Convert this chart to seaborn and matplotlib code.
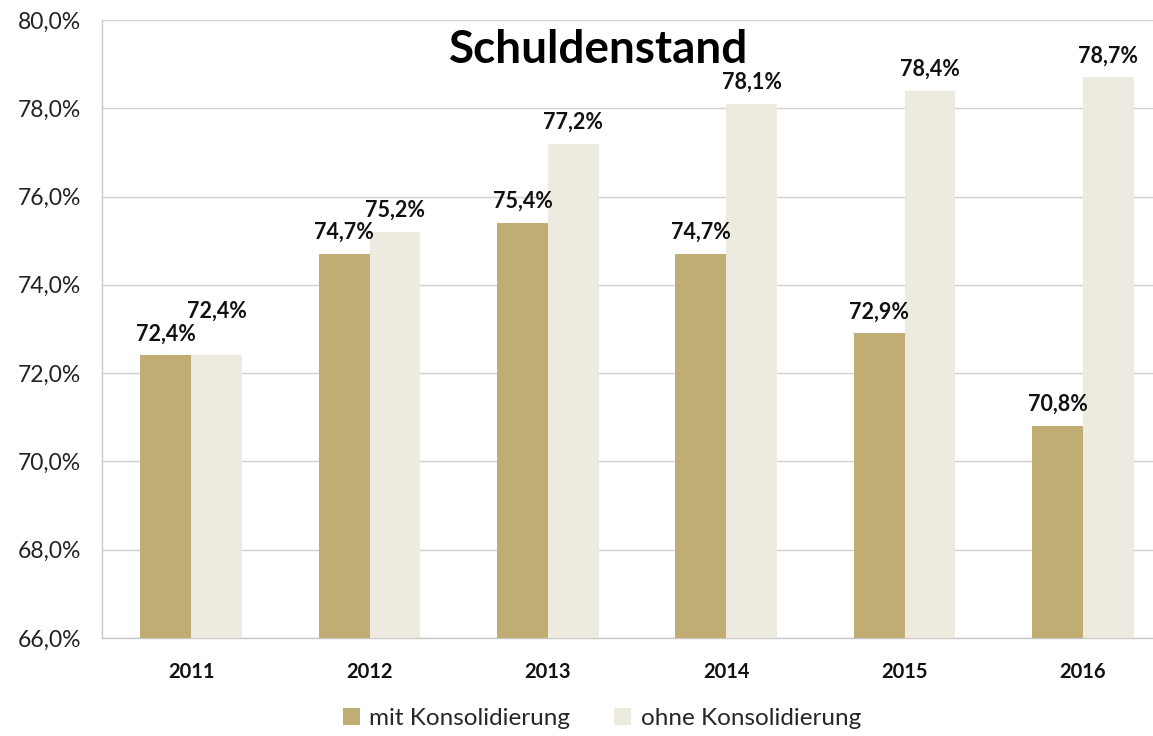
import matplotlib
matplotlib.use("Agg")
import matplotlib.pyplot as plt
import seaborn as sns
import pandas as pd
from matplotlib.ticker import FuncFormatter, FixedLocator
from matplotlib.patches import Patch

years = ["2011", "2012", "2013", "2014", "2015", "2016"]
mit_konsolidierung = [72.4, 74.7, 75.4, 74.7, 72.9, 70.8]
ohne_konsolidierung = [72.4, 75.2, 77.2, 78.1, 78.4, 78.7]
series_names = ["mit Konsolidierung", "ohne Konsolidierung"]
title = "Schuldenstand"

sns.set_theme(style="white")
plt.rcParams["font.family"] = ["Lato", "DejaVu Sans"]

df = pd.DataFrame({
    "Jahr": years * 2,
    "Wert": mit_konsolidierung + ohne_konsolidierung,
    "Serie": [series_names[0]] * len(years) + [series_names[1]] * len(years),
})

colors = {series_names[0]: "#BFAD74", series_names[1]: "#EDEAE0"}

fig = plt.figure(figsize=(11.53, 7.36), dpi=100)
ax = fig.add_axes([0.0885, 0.1332, 0.928, 0.8397])

sns.barplot(data=df, x="Jahr", y="Wert", hue="Serie", palette=colors,
            width=0.57, saturation=1, ax=ax, legend=False, zorder=3,
            linewidth=0, edgecolor="none")

ax.set_ylim(66, 80)
ax.set_xlim(-0.5, 5.5)
ax.set_yticks([66, 68, 70, 72, 74, 76, 78, 80])
ax.yaxis.set_major_formatter(FuncFormatter(lambda v, p: f"{v:.1f}".replace(".", ",") + "%"))
ax.grid(axis="y", color="#D0D0D0", linewidth=1, zorder=0)
ax.set_xlabel("")
ax.set_ylabel("")

for s in ["top", "right"]:
    ax.spines[s].set_visible(False)
for s in ["left", "bottom"]:
    ax.spines[s].set_color("#C8C8C8")
    ax.spines[s].set_linewidth(1)

ax.tick_params(axis="y", length=6, color="#C8C8C8", labelsize=16.5, pad=9, labelcolor="#222222")
ax.tick_params(axis="x", which="major", length=0, labelsize=14.5, pad=17, labelcolor="#111111")
for lbl in ax.get_xticklabels():
    lbl.set_fontweight("bold")
ax.xaxis.set_minor_locator(FixedLocator([i + 0.5 for i in range(-1, len(years))]))
ax.tick_params(axis="x", which="minor", length=8, color="#C8C8C8", direction="out")

for ci, cont in enumerate(ax.containers):
    for bi, b in enumerate(cont):
        h = b.get_height()
        extra = 0
        if ci == 1 and abs(mit_konsolidierung[bi] - ohne_konsolidierung[bi]) < 0.05:
            extra = 16
        ax.annotate(f"{h:.1f}".replace(".", ",") + "%",
                    xy=(b.get_x() + b.get_width() / 2, h), xytext=(0, 8 + extra),
                    textcoords="offset points", ha="center", va="bottom",
                    fontsize=15.5, fontweight="bold", color="#111111", zorder=5)

ax.text(0.464, 0.985, title, transform=ax.transAxes, ha="center", va="top",
        fontsize=33, fontweight="bold", color="#000000")

handles = [Patch(facecolor=colors[n], edgecolor="none") for n in series_names]
fig.legend(handles, series_names, loc="center", bbox_to_anchor=(0.522, 0.024), ncol=2,
           frameon=False, fontsize=17.5, handlelength=0.7, handleheight=0.7,
           handletextpad=0.4, columnspacing=1.8)

fig.savefig("out.png", dpi=100)
